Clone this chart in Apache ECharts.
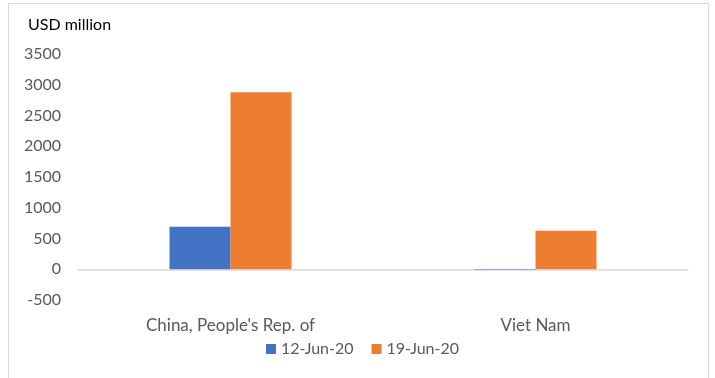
<!DOCTYPE html>
<html><head><meta charset="utf-8">
<script src="https://cdn.jsdelivr.net/npm/echarts@6/dist/echarts.min.js"></script>
<style>html,body{margin:0;padding:0;background:#fff}#c{width:715px;height:378px}</style>
</head><body><div id="c"></div>
<script>
const categories = ["China, People's Rep. of", "Viet Nam"];
const seriesNames = ["12-Jun-20", "19-Jun-20"];
const jun12 = [690, -10];
const jun19 = [2880, 625];
const yTicks = [-500, 0, 500, 1000, 1500, 2000, 2500, 3000, 3500];

const chart = echarts.init(document.getElementById('c'));
const font = 'Lato, "Open Sans", sans-serif';
chart.setOption({
  animation: false,
  graphic: [{type:'rect', shape:{x:8.5,y:3.5,width:700,height:390}, style:{fill:'none', stroke:'#d9d9d9', lineWidth:1}}],
  title: {text:'USD million', left:23, top:12, textStyle:{fontFamily:font, fontSize:16, fontWeight:'normal', color:'#000'}},
  legend: {data: seriesNames, bottom: 16, left: 261, itemWidth:10, itemHeight:10, itemGap:18,
    icon:'rect', textStyle:{fontFamily:font, fontSize:16, color:'#595959'}},
  grid: {left:78, right:27, top:54, bottom:78},
  xAxis: {type:'category', data:categories, axisTick:{show:false},
    axisLine:{lineStyle:{color:'#d9d9d9', width:1.5}},
    axisLabel:{margin:17, fontFamily:font, fontSize:17, color:'#595959'}},
  yAxis: {type:'value', min:yTicks[0], max:yTicks[yTicks.length-1], interval:500,
    axisLine:{show:false}, axisTick:{show:false}, splitLine:{show:false},
    axisLabel:{margin:17, fontFamily:font, fontSize:16, color:'#595959', formatter: v => String(v)}},
  series: [
    {name:seriesNames[0], type:'bar', data:jun12, itemStyle:{color:'#4472C4'}, barGap:'0%', barCategoryGap:'60%'},
    {name:seriesNames[1], type:'bar', data:jun19, itemStyle:{color:'#ED7D31'}, barGap:'0%', barCategoryGap:'60%'}
  ]
});
</script></body></html>
